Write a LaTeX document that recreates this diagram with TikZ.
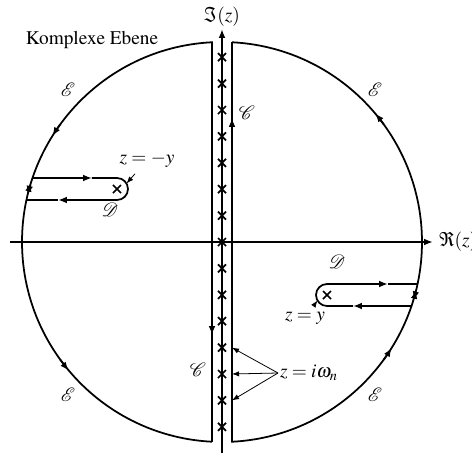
\documentclass[tikz,border=0pt]{standalone}
\usepackage[T1]{fontenc}
\usepackage{mathptmx}
\usepackage{mathrsfs}
\usetikzlibrary{arrows.meta, calc}

\tikzset{
  contour/.style={line width=1pt},
  pointer/.style={line width=0.45pt, -{Latex[length=4pt,width=3pt]}},
  pole/.style={line width=1pt},
}

\begin{document}
\begin{tikzpicture}[font=\fontsize{11}{13}\selectfont, >={Latex[length=5pt,width=3.8pt]}]
  \useasboundingbox (-4.44,-4.22) rectangle (5.0,4.84);
  % axes
  \draw[contour,->] (-4.24,0) -- (4.22,0) node[right, inner sep=3pt] (re) {$\Re(z)$};
  \draw[contour,->] (0,-4.22) -- (0,4.26) node[above, inner sep=1pt] (im) {$\Im(z)$};
  \node (plane) at (-2.6,4.04) {Komplexe Ebene};
  % poles on the imaginary axis
  \foreach \k in {-7,...,7} {
    \coordinate (p\k) at (0,0.528*\k);
    \draw[pole] ($(p\k)+(-0.08,-0.08)$) -- ++(0.16,0.16) ($(p\k)+(-0.08,0.08)$) -- ++(0.16,-0.16);
  }
  \coordinate (pm) at (-2.1,1.06);
  \coordinate (pp) at (2.1,-1.06);
  \draw[pole] ($(pm)+(-0.08,-0.08)$) -- ++(0.16,0.16) ($(pm)+(-0.08,0.08)$) -- ++(0.16,-0.16);
  \draw[pole] ($(pp)+(-0.08,-0.08)$) -- ++(0.16,0.16) ($(pp)+(-0.08,0.08)$) -- ++(0.16,-0.16);
  % both halves of the big circle
  \draw[contour] (-0.2,-3.995) -- (-0.2,3.995) arc[start angle=92.87, end angle=267.13, radius=4] -- cycle;
  \draw[contour] (0.2,3.995) -- (0.2,-3.995) arc[start angle=-87.13, end angle=87.13, radius=4] -- cycle;
  \draw[contour,->] (-0.2,-1.66) -- (-0.2,-1.86);
  \draw[contour,->] (0.2,2.28) -- (0.2,2.48);
  \foreach \a/\b in {36/40, 144/148, 216/220, -36/-32, 165.4/162.8, 163.4/166.3, -16.4/-13.9, -14.4/-16.9}
    \draw[contour,->] (\a:4) arc[start angle=\a, end angle=\b, radius=4];
  % keyholes
  \draw[contour,->] (161.34:4) -- (-2.6,1.28);
  \draw[contour,->] (-2.6,1.28) -- (-2.1,1.28) arc[start angle=90, end angle=-90, radius=0.22] -- (-3.28,0.84);
  \draw[contour] (-3.28,0.84) -- (167.87:4);
  \draw[contour,->] (-18.66:4) -- (2.62,-1.28);
  \draw[contour,->] (2.62,-1.28) -- (2.1,-1.28) arc[start angle=270, end angle=90, radius=0.22] -- (3.32,-0.84);
  \draw[contour] (3.32,-0.84) -- (-12.13:4);
  % labels
  \node (e1) at (-3.08,3.04) {$\mathscr{E}$};
  \node (e2) at (3.06,3.04) {$\mathscr{E}$};
  \node (e3) at (-3.08,-3.06) {$\mathscr{E}$};
  \node (e4) at (3.06,-3.06) {$\mathscr{E}$};
  \node (c1) at (0.5,2.58) {$\mathscr{C}$};
  \node (c2) at (-0.48,-2.56) {$\mathscr{C}$};
  \node (d1) at (-2.24,0.64) {$\mathscr{D}$};
  \node (d2) at (2.3,-0.4) {$\mathscr{D}$};
  \node (zmy) at (-1.5,1.64) {$z=-y$};
  \node (zy) at (1.66,-1.52) {$z=y$};
  \node[right, inner sep=1pt] (zw) at (1.12,-2.62) {$z=i\omega_n$};
  \draw[pointer] (zmy) -- ($(pm)+(30:0.22)$);
  \draw[pointer] (zy) -- ($(pp)+(210:0.22)$);
  \foreach \k in {-4,-5,-6}
    \draw[pointer] (zw.west) -- ($(p\k)+(0.2,0)$);
\end{tikzpicture}
\end{document}
